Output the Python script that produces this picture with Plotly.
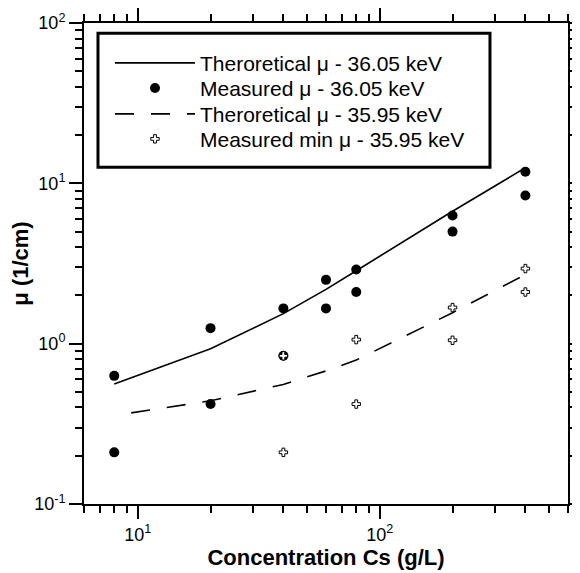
import plotly.graph_objects as go

# Data
theo36_x = [8, 20, 40, 60, 80, 200, 400]
theo36_y = [0.56, 0.93, 1.54, 2.18, 2.85, 6.7, 12.5]

meas36_x = [8, 8, 20, 20, 40, 40, 60, 60, 80, 80, 200, 200, 400, 400]
meas36_y = [0.63, 0.21, 1.25, 0.42, 1.66, 0.84, 2.5, 1.66, 2.9, 2.1, 6.3, 5.0, 11.8, 8.4]

theo35_x = [9.4, 20, 40, 60, 80, 200, 400]
theo35_y = [0.37, 0.44, 0.557, 0.676, 0.79, 1.56, 2.7]

min35_x = [40, 40, 80, 80, 200, 200, 400, 400]
min35_y = [0.84, 0.21, 1.06, 0.42, 1.68, 1.05, 2.94, 2.1]

x_tickvals = [10, 100]
x_ticktext = ["10<sup>1</sup>", "10<sup>2</sup>"]
y_tickvals = [0.1, 1, 10, 100]
y_ticktext = ["10<sup>-1</sup>", "10<sup>0</sup>", "10<sup>1</sup>", "10<sup>2</sup>"]

FONT = "Arial, Liberation Sans, sans-serif"

fig = go.Figure()
fig.add_trace(go.Scatter(x=theo36_x, y=theo36_y, mode="lines",
                         name="Theroretical μ - 36.05 keV", legend="legend",
                         line=dict(color="black", width=1.6)))
fig.add_trace(go.Scatter(x=meas36_x, y=meas36_y, mode="markers",
                         name="Measured μ - 36.05 keV", legend="legend2",
                         marker=dict(symbol="circle", size=10, color="black")))
fig.add_trace(go.Scatter(x=theo35_x, y=theo35_y, mode="lines",
                         name="Theroretical μ - 35.95 keV", legend="legend3",
                         line=dict(color="black", width=1.6, dash="19px,17px")))
fig.add_trace(go.Scatter(x=min35_x, y=min35_y, mode="markers",
                         name="Measured min μ - 35.95 keV", legend="legend4",
                         marker=dict(symbol="cross", size=7, color="white",
                                     line=dict(color="black", width=1))))

axis_common = dict(
    type="log", showgrid=False, zeroline=False, automargin=False,
    showline=True, linecolor="black", linewidth=2, mirror="ticks",
    ticks="outside", ticklen=13, tickwidth=2, tickcolor="black",
    tickmode="array",
    tickfont=dict(family=FONT, size=18, color="black"),
    minor=dict(ticks="outside", ticklen=7, tickwidth=2, tickcolor="black",
               dtick="D1", showgrid=False),
)


def legend_row(ypos):
    return dict(x=0.0537, y=ypos, xanchor="left", yanchor="middle",
                borderwidth=0, bgcolor="rgba(0,0,0,0)",
                font=dict(family=FONT, size=21, color="black"),
                itemwidth=80)


# page body has an 8px margin, so the figure is sized to fit inside the window
fig.update_layout(
    width=572, height=565,
    margin=dict(l=76, r=12, t=15, b=69),
    paper_bgcolor="white", plot_bgcolor="white",
    font=dict(family=FONT, color="black"),
    xaxis=dict(axis_common, range=[0.77815, 2.77815],
               tickvals=x_tickvals, ticktext=x_ticktext,
               title=dict(text="<b>Concentration Cs (g/L)</b>",
                          font=dict(family=FONT, size=22), standoff=0)),
    yaxis=dict(axis_common, range=[-1, 2],
               tickvals=y_tickvals, ticktext=y_ticktext,
               title=dict(text="<b>μ (1/cm)</b>",
                          font=dict(family=FONT, size=22), standoff=0)),
    legend=legend_row(0.9163),
    legend2=legend_row(0.8643),
    legend3=legend_row(0.8103),
    legend4=legend_row(0.7584),
    shapes=[dict(type="rect", xref="paper", yref="paper",
                 x0=0.0289, x1=0.8388, y0=0.7002, y1=0.9786,
                 line=dict(color="black", width=3), fillcolor="white",
                 layer="below")],
    showlegend=True,
)

fig.write_html("out.html")
